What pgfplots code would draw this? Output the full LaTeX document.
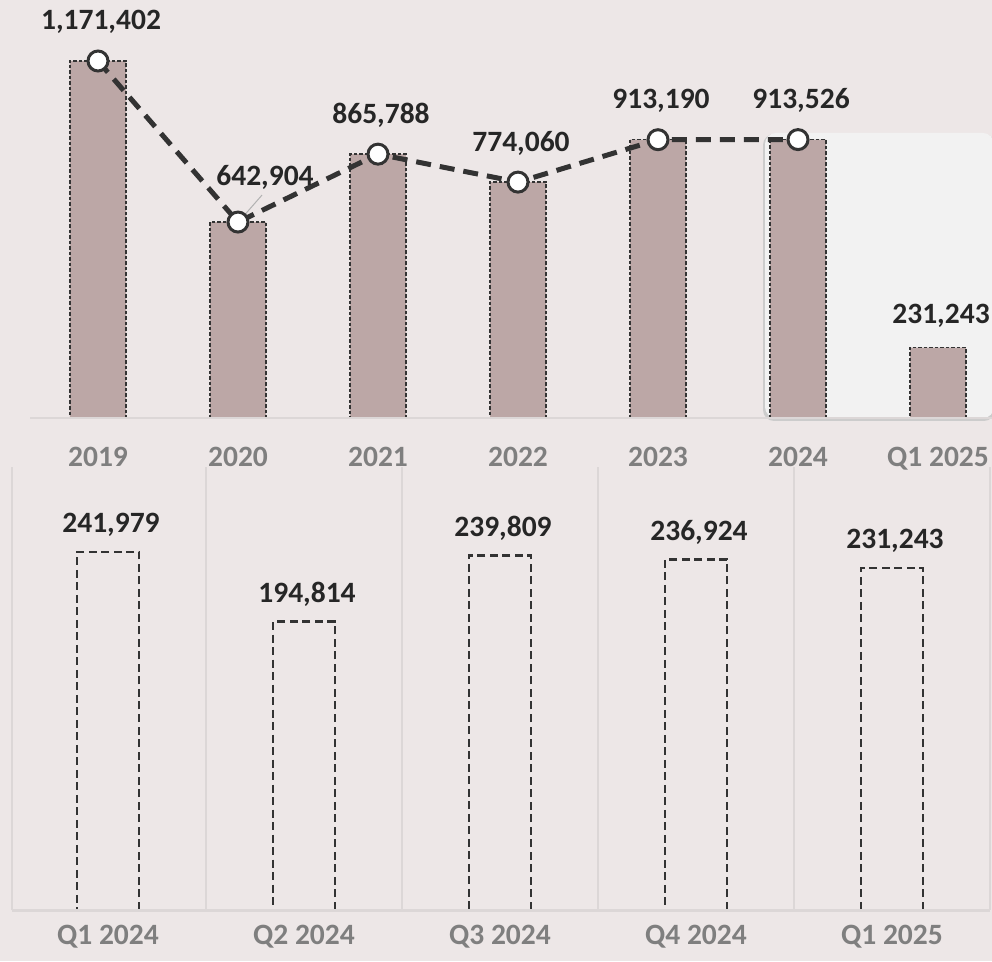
\documentclass[border=0pt]{standalone}
\usepackage{pgfplots}
\pgfplotsset{compat=1.18}
\usepackage{fontspec}
\setmainfont{Carlito}

\definecolor{bgc}{HTML}{EDE7E7}
\definecolor{barc}{HTML}{BCA7A6}
\definecolor{darkc}{HTML}{333333}
\definecolor{labc}{HTML}{262626}
\definecolor{tickc}{HTML}{7F7F7F}
\definecolor{gridc}{HTML}{DCD7D7}
\definecolor{boxc}{HTML}{F2F2F2}

\tikzset{valstyle/.style={font=\fontsize{29.5}{32}\selectfont\bfseries, text=labc}}

\begin{document}
\begin{tikzpicture}[x=1pt,y=1pt]
% page background
\fill[bgc] (0,0) rectangle (992,961);
% highlight panel behind 2024 / Q1 2025
\fill[black!20, rounded corners=11pt] (763,540) rectangle (995,827);
\fill[boxc, rounded corners=11pt] (765,543) rectangle (994,828);

% ---------- top: yearly totals ----------
\begin{axis}[
  at={(30pt,543pt)}, anchor=south west,
  scale only axis, width=962pt, height=418pt,
  xmin=-0.4857, xmax=6.3857, ymin=0, ymax=1371570,
  axis line style={draw=none}, major tick length=0pt,
  ytick=\empty,
  xtick={0,...,6},
  xticklabels={2019,2020,2021,2022,2023,2024,Q1 2025},
  xticklabel style={font=\fontsize{29.5}{32}\selectfont\bfseries, text=tickc, anchor=base, yshift=-49pt},
  clip=false,
]
\addplot[ybar, bar width=56pt, fill=barc, draw=darkc, line width=1.3pt,
  dash pattern=on 3.5pt off 2pt,
  nodes near coords, point meta=explicit symbolic,
  every node near coord/.append style={valstyle, anchor=base, yshift=24pt, xshift=3pt}]
  coordinates {
  (0,1171402)[] (1,642904)[] (2,865788)[] (3,774060)[]
  (4,913190)[] (5,913526)[] (6,231243)[231,243]
};
\draw[gridc, line width=1.5pt] (axis cs:-0.4857,0) -- (axis cs:6.3857,0);
% leader line for 2020 label
\draw[black!30, line width=1pt] ([xshift=3pt,yshift=3pt]axis cs:1,642904) -- ([xshift=24pt,yshift=27pt]axis cs:1,642904);
\addplot[darkc, line width=5pt, dash pattern=on 15pt off 9pt,
  mark=*, mark size=10pt, mark options={solid, fill=white, draw=darkc, line width=3pt},
  nodes near coords, point meta=explicit symbolic,
  every node near coord/.append style={valstyle, anchor=base, yshift=31pt, xshift=3pt}]
  coordinates {
  (0,1171402)[1,171,402] (1,642904)[] (2,865788)[865,788]
  (3,774060)[774,060] (4,913190)[913,190] (5,913526)[913,526]
};
\addplot[draw=none, mark=none,
  nodes near coords, point meta=explicit symbolic,
  every node near coord/.append style={valstyle, anchor=base, xshift=27pt, yshift=37pt}]
  coordinates {(1,642904)[642,904]};
\end{axis}

% ---------- bottom: quarterly totals ----------
\begin{axis}[
  at={(12pt,51pt)}, anchor=south west,
  scale only axis, width=978pt, height=443pt,
  xmin=-0.4898, xmax=4.5, ymin=0, ymax=299430,
  axis line style={draw=none}, major tick length=0pt,
  ytick=\empty,
  xtick={0,...,4},
  xticklabels={Q1 2024,Q2 2024,Q3 2024,Q4 2024,Q1 2025},
  xticklabel style={font=\fontsize{29.5}{32}\selectfont\bfseries, text=tickc, anchor=base, yshift=-34pt},
  extra x ticks={-0.4898,0.5,1.5,2.5,3.5,4.5},
  extra x tick labels={},
  extra x tick style={grid=major, major grid style={gridc, line width=1.2pt}},
  clip=false,
]
\addplot[ybar, bar width=62pt, fill=none, draw=darkc, line width=2.6pt,
  dash pattern=on 8pt off 4.5pt,
  nodes near coords, point meta=explicit symbolic,
  every node near coord/.append style={valstyle, anchor=base, yshift=19pt, xshift=3pt}]
  coordinates {
  (0,241979)[241,979] (1,194814)[194,814] (2,239809)[239,809]
  (3,236924)[236,924] (4,231243)[231,243]
};
\draw[gridc, line width=3pt] (axis cs:-0.4898,0) -- (axis cs:4.5,0);
\end{axis}

\pgfresetboundingbox
\useasboundingbox (0,0) rectangle (992,961);
\end{tikzpicture}
\end{document}
